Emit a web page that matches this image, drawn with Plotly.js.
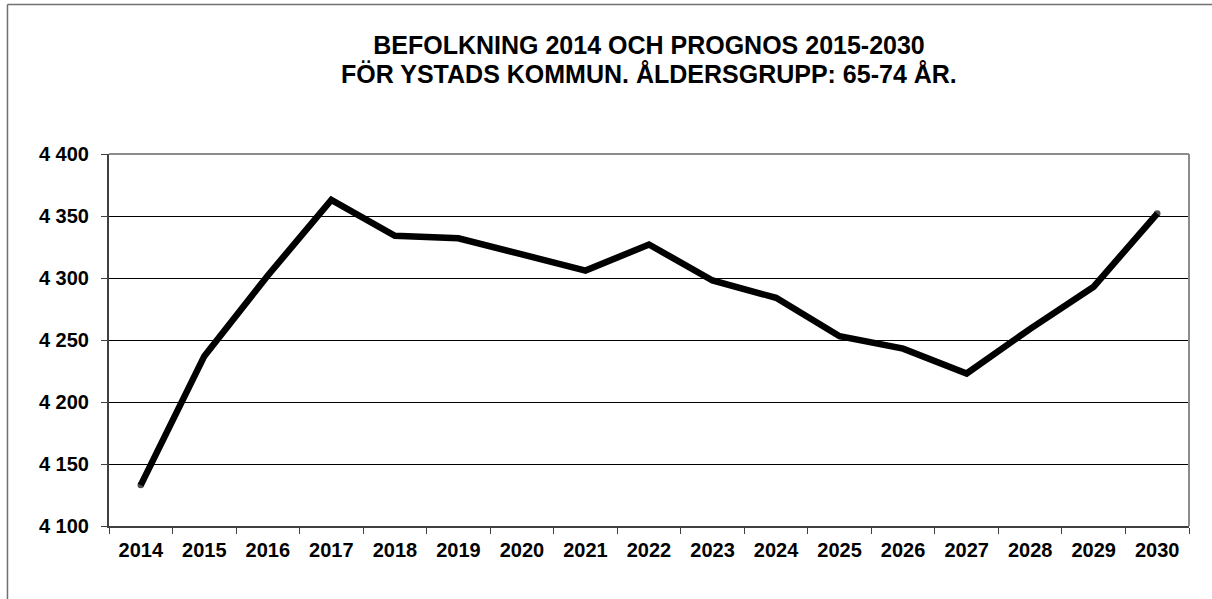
<!DOCTYPE html>
<html>
<head>
<meta charset="utf-8">
<script src="https://cdn.plot.ly/plotly-3.0.1.min.js"></script>
<style>
  html, body { margin: 0; padding: 0; background: #fff; }
  #chart { width: 1212px; height: 599px; }
</style>
</head>
<body>
<div id="chart"></div>
<script>
const years = ['2014','2015','2016','2017','2018','2019','2020','2021','2022','2023','2024','2025','2026','2027','2028','2029','2030'];
const population = [4133, 4237, 4302, 4363, 4334, 4332, 4319, 4306, 4327, 4298, 4284, 4253, 4243, 4223, 4259, 4293, 4352];
const titleLines = ['BEFOLKNING 2014 OCH PROGNOS 2015-2030', 'FÖR YSTADS KOMMUN. ÅLDERSGRUPP: 65-74 ÅR.'];

const font = 'Liberation Sans, Arial, sans-serif';
const titleFont = { family: font, size: 25, color: '#000', weight: 'bold' };

// round caps only at the two ends of the line
const endCapSizes = years.map((_, i) => (i === 0 || i === years.length - 1) ? 6.5 : 0);

const trace = {
  x: years,
  y: population,
  type: 'scatter',
  mode: 'lines+markers',
  line: { color: '#000000', width: 6.5 },
  marker: { color: '#000000', size: endCapSizes, line: { width: 0 } },
  hoverinfo: 'x+y'
};

const layout = {
  width: 1212,
  height: 599,
  margin: { l: 109, r: 23, t: 154, b: 73 },
  paper_bgcolor: '#ffffff',
  plot_bgcolor: '#ffffff',
  separators: ', ',
  showlegend: false,
  title: {
    text: titleLines[0],
    font: titleFont,
    x: 0.5, xref: 'paper', xanchor: 'center',
    y: 1 - 45 / 599, yref: 'container', yanchor: 'middle'
  },
  annotations: [
    {
      text: titleLines[1],
      font: titleFont,
      showarrow: false,
      xref: 'paper', x: 0.5, xanchor: 'center',
      yref: 'paper', y: (525.5 - 75) / 371, yanchor: 'middle'
    }
  ],
  xaxis: {
    type: 'category',
    range: [-0.5, 16.5],
    showgrid: false,
    zeroline: false,
    showline: true,
    linecolor: '#404040',
    linewidth: 2,
    ticks: 'outside',
    tickson: 'boundaries',
    ticklen: 6,
    tickcolor: '#404040',
    tickwidth: 1,
    ticklabelstandoff: 5,
    tickfont: { family: font, size: 20, color: '#000', weight: 'bold' },
    fixedrange: true
  },
  yaxis: {
    range: [4100, 4400],
    dtick: 50,
    tick0: 4100,
    tickformat: ',d',
    separatethousands: true,
    showgrid: true,
    gridcolor: '#000000',
    gridwidth: 1,
    zeroline: false,
    showline: true,
    linecolor: '#404040',
    linewidth: 2,
    ticks: 'outside',
    ticklen: 6,
    tickcolor: '#404040',
    tickwidth: 1,
    ticklabelstandoff: 8,
    tickfont: { family: font, size: 20, color: '#000', weight: 'bold' },
    fixedrange: true
  },
  shapes: [
    // plot area top and right border (grey)
    { type: 'line', xref: 'paper', yref: 'paper', x0: 0, x1: 1, y0: 1, y1: 1, line: { color: '#8c8c8c', width: 2 } },
    { type: 'line', xref: 'paper', yref: 'paper', x0: 1, x1: 1, y0: 0, y1: 1, line: { color: '#8c8c8c', width: 2 } },
    // outer chart frame (left and top edges visible)
    { type: 'line', xref: 'paper', yref: 'paper', x0: -0.0940, x1: -0.0940, y0: -0.3, y1: 1.4016, line: { color: '#707070', width: 1.5 } },
    { type: 'line', xref: 'paper', yref: 'paper', x0: -0.0940, x1: 1.05, y0: 1.4016, y1: 1.4016, line: { color: '#707070', width: 1.5 } }
  ]
};

Plotly.newPlot('chart', [trace], layout, { displayModeBar: false });
</script>
</body>
</html>
